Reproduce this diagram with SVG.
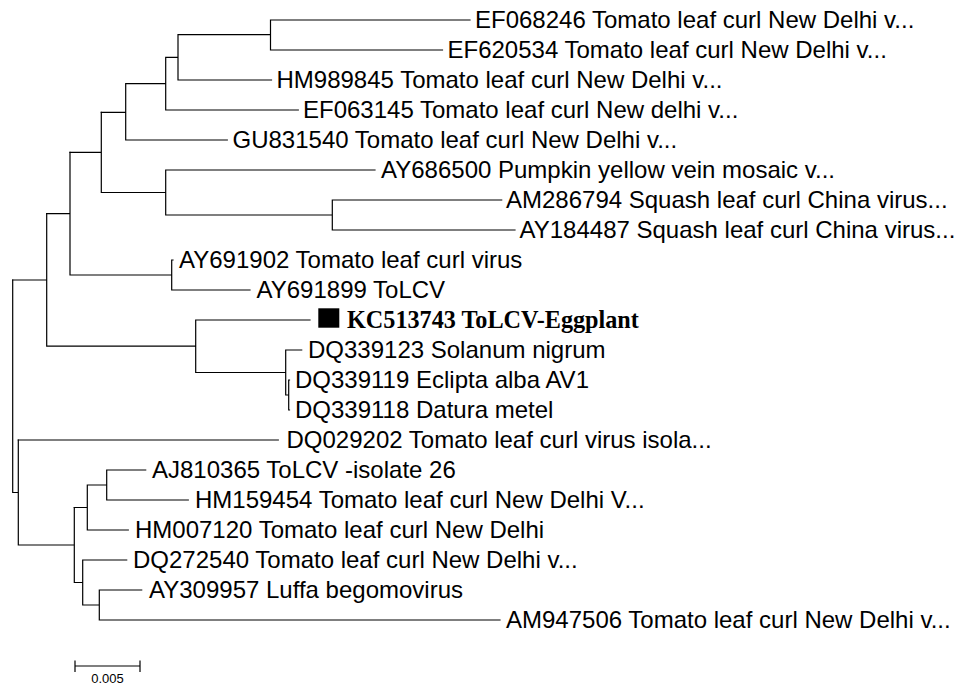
<svg xmlns="http://www.w3.org/2000/svg" width="965" height="685" viewBox="0 0 965 685">
<style>
.br{fill:none;stroke:#000;stroke-width:1.2;stroke-linecap:square}
.lb{font-family:"Liberation Sans",Arial,sans-serif;font-size:24px;fill:#000}
.kc{font-family:"Liberation Serif","Times New Roman",serif;font-size:24.2px;font-weight:bold;fill:#000}
.sc{font-family:"Liberation Sans",Arial,sans-serif;font-size:13px;fill:#000}
</style>
<rect width="965" height="685" fill="#fff"/>
<g id="connectors" class="br">
<path d="M270.5 20V50M270.5 20H470M270.5 50H442.5M178 34.7H270.5M178 34.7V80M178 80H271.5M165.7 57.3H178M165.7 57.3V110M165.7 110H298.3M125.7 83.7H165.7M125.7 83.7V140M125.7 140H227.3M101.3 112.3H125.7"/>
<path d="M165.7 170H375M332.3 200V230M332.3 200H501.7M332.3 230H515M165.7 215H332.3M165.7 170V215M101.3 192.5H165.7M101.3 112.3V192.5M70 152.3H101.3"/>
<path d="M171.7 260H173M171.7 290H250M171.7 260V290M70 275H171.7M70 152.3V275M46.7 213.7H70"/>
<path d="M195.7 320H310M285.7 350H301.7M288.7 380H289.5M288.7 410H289.5M288.7 380V410M285.7 395H288.7M285.7 350V395M195.7 372.5H285.7M195.7 320V372.5M46.7 346.2H195.7M46.7 213.7V346.2M12.7 280H46.7"/>
<path d="M18.3 440H278.3M106.7 470H145.7M106.7 500H188.3M106.7 470V500M87.3 485H106.7M87.3 530H128.3M87.3 485V530M74.3 507.5H87.3"/>
<path d="M82.7 560H126.7M99.3 590H141.7M99.3 620H500M99.3 590V620M82.7 605H99.3M82.7 560V605M74.3 582.5H82.7M74.3 507.5V582.5M18.3 545H74.3M18.3 440V545M12.7 492.5H18.3M12.7 280V492.5"/>
</g>
<g id="n1"><text class="lb" x="475" y="28">EF068246 Tomato leaf curl New Delhi v...</text></g>
<g id="n2"><text class="lb" x="447.5" y="58">EF620534 Tomato leaf curl New Delhi v...</text></g>
<g id="n3"><text class="lb" x="276.5" y="88">HM989845 Tomato leaf curl New Delhi v...</text></g>
<g id="n4"><text class="lb" x="303" y="118">EF063145 Tomato leaf curl New delhi v...</text></g>
<g id="n5"><text class="lb" x="232.5" y="148">GU831540 Tomato leaf curl New Delhi v...</text></g>
<g id="n6"><text class="lb" x="381" y="178">AY686500 Pumpkin yellow vein mosaic v...</text></g>
<g id="n7"><text class="lb" x="506" y="208">AM286794 Squash leaf curl China virus...</text></g>
<g id="n8"><text class="lb" x="519.5" y="238">AY184487 Squash leaf curl China virus...</text></g>
<g id="n9"><text class="lb" x="179" y="268">AY691902 Tomato leaf curl virus</text></g>
<g id="n10"><text class="lb" x="256.5" y="298">AY691899 ToLCV</text></g>
<g id="n11"><rect x="318.3" y="308.3" width="21" height="19.4" fill="#000"/><text class="kc" x="347" y="327.5">KC513743 ToLCV-Eggplant</text></g>
<g id="n12"><text class="lb" x="308" y="358">DQ339123 Solanum nigrum</text></g>
<g id="n13"><text class="lb" x="295" y="388">DQ339119 Eclipta alba AV1</text></g>
<g id="n14"><text class="lb" x="295" y="418">DQ339118 Datura metel</text></g>
<g id="n15"><text class="lb" x="286.5" y="448">DQ029202 Tomato leaf curl virus isola...</text></g>
<g id="n16"><text class="lb" x="152" y="478">AJ810365 ToLCV -isolate 26</text></g>
<g id="n17"><text class="lb" x="195" y="508">HM159454 Tomato leaf curl New Delhi V...</text></g>
<g id="n18"><text class="lb" x="135" y="538">HM007120 Tomato leaf curl New Delhi</text></g>
<g id="n19"><text class="lb" x="133" y="568">DQ272540 Tomato leaf curl New Delhi v...</text></g>
<g id="n20"><text class="lb" x="149" y="598">AY309957 Luffa begomovirus</text></g>
<g id="n21"><text class="lb" x="506" y="628">AM947506 Tomato leaf curl New Delhi v...</text></g>
<g id="scale">
<path class="br" d="M75 666H140M75 661V671.5M140 661V671.5"/>
<text class="sc" x="107.5" y="683" text-anchor="middle">0.005</text>
</g>
</svg>
